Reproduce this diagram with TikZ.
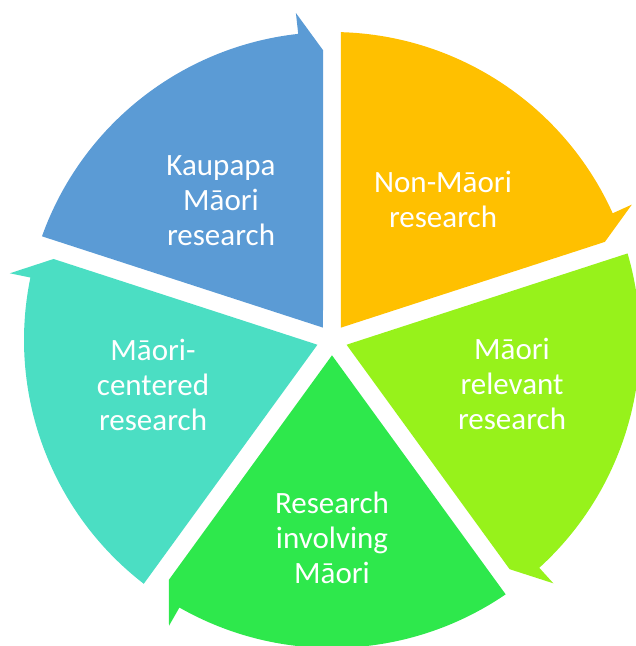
\documentclass[tikz,border=0pt]{standalone}
\usepackage{fontspec}
\setmainfont{Carlito}
\begin{document}
\begin{tikzpicture}[x=1pt,y=1pt,
  seglabel/.style={text=white, align=center, inner sep=0pt,
    font=\fontsize{31}{35}\selectfont}]
\definecolor{segblue}{HTML}{5B9BD5}
\definecolor{segorange}{HTML}{FFC000}
\definecolor{seglime}{HTML}{97F21B}
\definecolor{seggreen}{HTML}{2EE84C}
\definecolor{segteal}{HTML}{4BDEC3}
\useasboundingbox (-332pt,-306pt) rectangle (304pt,340pt);
% Five 72-degree sectors, separated by white gaps, each ending clockwise
% in a half arrowhead whose barb sticks out beyond the rim.
\foreach \e/\c in {90/segblue, 18/segorange, -54/seglime, -126/seggreen, -198/segteal}{
  \pgfmathsetmacro{\s}{\e+72}
  \fill[\c] (\e+36:15.31pt) -- (\s-1.674:308pt)
    arc[start angle=\s-1.674, end angle=\e+6.3, radius=308pt]
    -- (\e+6.3:329pt) -- (\e+1.778:290pt) -- cycle;
}
\node[seglabel] (kaupapa)  at (-111pt,139pt)  {Kaupapa\\Māori\\research};
\node[seglabel] (nonmaori) at (111pt,141pt)   {Non-Māori\\research};
\node[seglabel] (relevant) at (180pt,-44pt)   {Māori\\relevant\\research};
\node[seglabel] (involving) at (0pt,-198pt)   {Research\\involving\\Māori};
\node[seglabel] (centered) at (-179pt,-45pt)  {Māori-\\centered\\research};
\end{tikzpicture}
\end{document}
